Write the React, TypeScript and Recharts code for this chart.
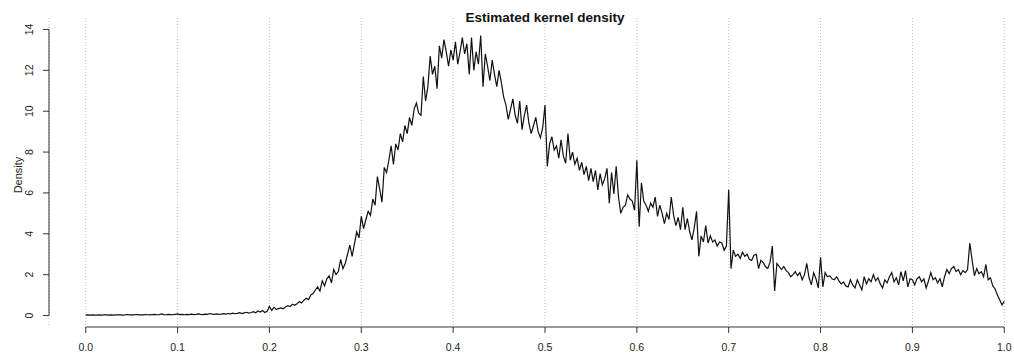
import React from "react";
import {
  LineChart,
  Line,
  XAxis,
  YAxis,
  CartesianGrid,
  ReferenceLine,
} from "recharts";

// density estimate, one value every 0.0025 from 0.0 to 1.0
const X_STEP = 0.0025;
const DENSITY = [
  // 0.00
  0.02, 0.03, 0.02, 0.03, 0.02, 0.02, 0.03, 0.02, 0.04, 0.03, 0.02, 0.03, 0.02, 0.03, 0.04, 0.03, 0.02, 0.03, 0.05, 0.03,
  // 0.05
  0.04, 0.03, 0.05, 0.03, 0.04, 0.03, 0.05, 0.04, 0.03, 0.05, 0.06, 0.04, 0.05, 0.08, 0.05, 0.04, 0.06, 0.05, 0.04, 0.06,
  // 0.10
  0.08, 0.05, 0.06, 0.04, 0.06, 0.05, 0.07, 0.05, 0.06, 0.08, 0.06, 0.05, 0.07, 0.06, 0.1, 0.07, 0.06, 0.08, 0.06, 0.07,
  // 0.15
  0.09, 0.07, 0.1, 0.08, 0.12, 0.09, 0.11, 0.14, 0.1, 0.13, 0.16, 0.12, 0.15, 0.19, 0.14, 0.22, 0.17, 0.25, 0.15, 0.21,
  // 0.20
  0.45, 0.25, 0.4, 0.3, 0.34, 0.37, 0.33, 0.42, 0.48, 0.44, 0.55, 0.5, 0.58, 0.68, 0.62, 0.75, 0.85, 0.78, 1.0, 1.08,
  // 0.25
  1.25, 1.4, 1.2, 1.7, 1.45, 1.8, 1.95, 1.6, 2.25, 2.0, 2.15, 2.75, 2.3, 2.55, 3.0, 3.45, 2.9, 3.5, 4.1, 3.8,
  // 0.30
  4.85, 4.25, 4.7, 5.1, 4.9, 5.7, 5.4, 6.8, 6.2, 5.55, 7.25, 7.0, 7.6, 8.3, 7.4, 8.4, 8.1, 8.9, 8.5, 9.3,
  // 0.35
  8.9, 9.7, 9.3, 10.1, 10.4, 9.9, 9.8, 11.7, 10.5, 11.2, 12.7, 11.8, 12.2, 11.1, 13.2, 12.6, 13.5, 12.9, 12.2, 13.0,
  // 0.40
  12.5, 13.4, 12.3, 12.9, 13.6, 12.8, 13.3, 11.8, 13.6, 12.0, 12.9, 12.3, 13.7, 11.2, 12.8, 12.2, 11.5, 12.5, 11.8, 11.2,
  // 0.45
  12.0, 11.4, 10.7, 10.3, 9.6, 10.1, 10.6, 9.8, 9.4, 10.5, 9.1, 9.8, 10.3, 9.4, 8.9, 9.3, 9.7, 9.0, 8.7, 9.2,
  // 0.50
  10.3, 7.3, 8.4, 8.75, 8.1, 8.3, 7.7, 8.6, 7.8, 7.45, 8.9, 7.6, 8.0, 7.4, 7.7, 7.1, 7.5, 6.9, 7.3, 6.6,
  // 0.55
  7.2, 6.55, 7.1, 6.15, 6.95, 6.4, 6.7, 7.2, 5.5, 7.0, 5.95, 7.3, 5.8, 5.0, 5.3, 5.4, 5.9, 5.7, 5.6, 5.15,
  // 0.60
  7.6, 4.35, 6.5, 5.6, 5.4, 5.1, 5.5, 5.3, 5.8, 4.85, 5.4, 5.0, 4.5, 5.0, 4.7, 5.8, 4.9, 4.4, 4.8, 4.2,
  // 0.65
  5.3, 4.2, 4.75, 4.1, 3.7, 4.3, 5.1, 2.9, 3.9, 3.6, 4.4, 3.55, 3.9, 3.6, 3.7, 3.4, 3.6, 3.55, 3.2, 3.4,
  // 0.70
  6.15, 2.3, 3.2, 2.9, 3.0, 2.8, 3.1, 2.9, 3.0, 2.75, 2.7, 2.95, 3.0, 2.3, 2.7, 2.6, 2.4, 2.3, 2.6, 3.4,
  // 0.75
  1.2, 2.55, 2.4, 2.25, 2.4, 2.2, 2.1, 1.9, 2.0, 2.15, 1.95, 2.1, 1.75, 2.0, 2.55, 1.85, 1.5, 2.1, 1.8, 1.35,
  // 0.80
  2.85, 1.4, 2.1, 1.9, 1.95, 1.8, 1.75, 1.9, 1.7, 1.55, 1.65, 1.45, 1.4, 1.75, 1.5, 1.35, 1.75, 1.5, 1.25, 1.9,
  // 0.85
  1.55, 1.8, 1.65, 2.0, 1.7, 1.85, 1.55, 1.35, 1.75, 1.6, 1.9, 2.1, 1.65, 1.85, 1.5, 2.15, 1.7, 2.2, 1.4, 1.8,
  // 0.90
  1.75, 1.5, 1.8, 1.9, 1.65, 1.8, 1.35, 1.7, 2.1, 1.75, 1.85, 1.6, 1.8, 1.4, 1.9, 2.25, 2.05, 2.3, 2.4, 2.15,
  // 0.95
  2.25, 2.0, 2.2, 2.1, 2.25, 3.55, 2.7, 1.95, 2.3, 2.05, 2.15, 1.9, 2.5, 1.75, 1.85, 1.45, 1.3, 1.0, 0.77, 0.52,
  // 1.00
  0.7,
];

const X_TICKS = [0, 0.1, 0.2, 0.3, 0.4, 0.5, 0.6, 0.7, 0.8, 0.9, 1.0];
const Y_TICKS = [0, 2, 4, 6, 8, 10, 12, 14];

// R pads the axis range by 4% on each side
const X_DOMAIN = [-0.04, 1.04];
const Y_DOMAIN = [-0.56, 14.56];

const data = DENSITY.map((d, i) => ({ x: +(i * X_STEP).toFixed(4), density: d }));

const FONT = '"Liberation Sans", Arial, sans-serif';

// rotated y tick labels, like las=0 in base R
function YTick(props: any) {
  const { x, y, payload } = props;
  const bx = x - 8;
  return (
    <text
      x={bx}
      y={y}
      transform={`rotate(-90, ${bx}, ${y})`}
      textAnchor="middle"
      fontSize={10.5}
      fontFamily={FONT}
      fill="#222"
    >
      {payload.value}
    </text>
  );
}

export default function App() {
  return (
    <div
      style={{
        position: "absolute",
        left: 0,
        top: 0,
        width: 1014,
        height: 358,
        overflow: "hidden",
        background: "#fff",
      }}
    >
      <LineChart
        width={1042}
        height={358}
        data={data}
        margin={{ top: 18, right: 1, left: 0, bottom: 0 }}
      >
        <CartesianGrid horizontal={false} stroke="#bdbdbd" strokeDasharray="1 2" />
        <XAxis
          dataKey="x"
          type="number"
          domain={X_DOMAIN}
          ticks={X_TICKS}
          interval={0}
          allowDataOverflow
          tickFormatter={(v: number) => v.toFixed(1)}
          axisLine={false}
          tickLine={{ stroke: "#333" }}
          tickSize={6}
          tickMargin={11}
          height={31}
          tick={{ fontSize: 10.5, fill: "#222", fontFamily: FONT }}
        />
        <YAxis
          type="number"
          domain={Y_DOMAIN}
          ticks={Y_TICKS}
          interval={0}
          allowDataOverflow
          axisLine={false}
          tickLine={{ stroke: "#333" }}
          tickSize={6}
          width={49}
          tick={<YTick />}
        />
        <ReferenceLine
          segment={[{ x: 0, y: Y_DOMAIN[0] }, { x: 1, y: Y_DOMAIN[0] }]}
          stroke="#333"
          ifOverflow="visible"
        />
        <ReferenceLine
          segment={[{ x: X_DOMAIN[0], y: 0 }, { x: X_DOMAIN[0], y: 14 }]}
          stroke="#333"
          ifOverflow="visible"
        />
        <Line
          type="linear"
          dataKey="density"
          stroke="#111"
          strokeWidth={1.2}
          dot={false}
          isAnimationActive={false}
        />
      </LineChart>
      <svg
        width={1014}
        height={358}
        style={{ position: "absolute", left: 0, top: 0, pointerEvents: "none" }}
      >
        <text
          x={545}
          y={21.5}
          textAnchor="middle"
          fontSize={13.5}
          fontWeight="bold"
          fontFamily={FONT}
          fill="#111"
        >
          Estimated kernel density
        </text>
        <text
          x={21.5}
          y={175}
          transform="rotate(-90, 21.5, 175)"
          textAnchor="middle"
          fontSize={11}
          fontFamily={FONT}
          fill="#222"
        >
          Density
        </text>
      </svg>
    </div>
  );
}
